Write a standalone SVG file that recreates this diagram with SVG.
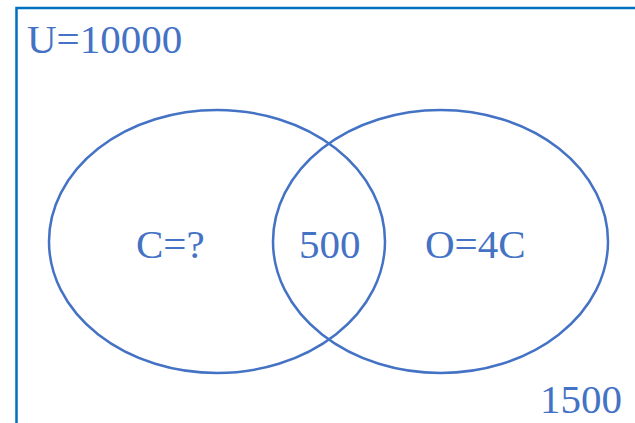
<svg xmlns="http://www.w3.org/2000/svg" width="635" height="423" viewBox="0 0 635 423">
  <style>
    .set { fill: none; stroke: #4472C4; stroke-width: 2.5; }
    .lbl { font-family: 'Liberation Serif', 'Times New Roman', 'DejaVu Serif', serif; font-size: 41px; fill: #4472C4; }
  </style>
  <rect x="0" y="0" width="635" height="423" fill="#ffffff"/>
  <g id="universe">
    <rect x="16.5" y="8" width="640" height="440" fill="none" stroke="#0070C0" stroke-width="2.5"/>
    <text class="lbl" x="27" y="53" font-family="Liberation Serif, serif">U=10000</text>
    <text class="lbl" x="540" y="413" font-size="40">1500</text>
  </g>
  <g id="set-C">
    <ellipse class="set" cx="217" cy="241.5" rx="168" ry="131.5"/>
    <text class="lbl" x="136" y="258">C=?</text>
  </g>
  <g id="set-O">
    <ellipse class="set" cx="440.5" cy="241.5" rx="167.5" ry="131.5"/>
    <text class="lbl" x="425" y="258">O=4C</text>
  </g>
  <g id="intersection">
    <text class="lbl" x="299" y="258">500</text>
  </g>
  <g id="connectors"/>
</svg>
